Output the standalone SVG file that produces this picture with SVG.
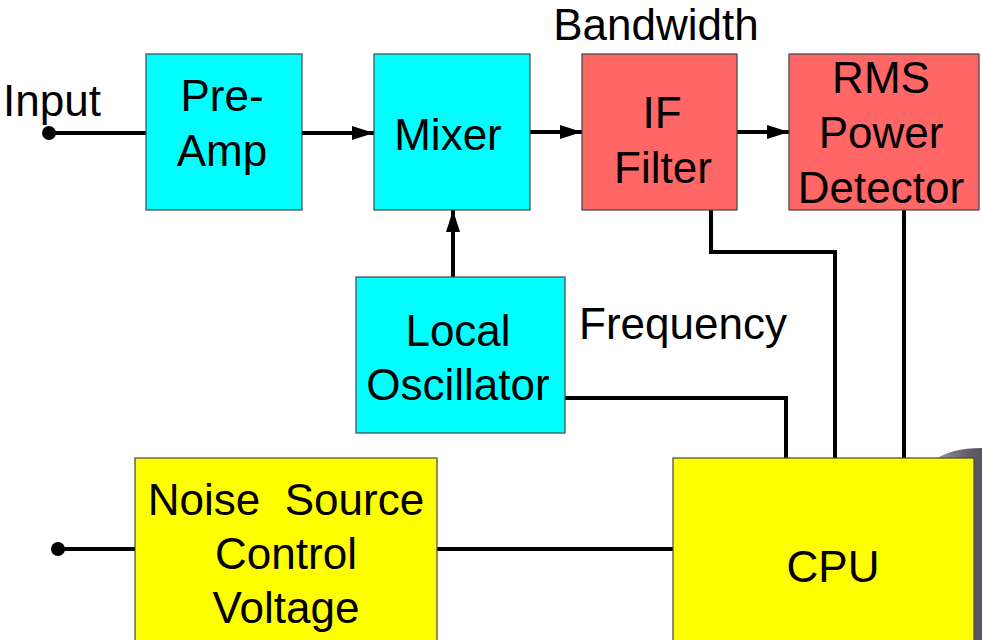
<svg xmlns="http://www.w3.org/2000/svg" width="982" height="640" viewBox="0 0 982 640">
<style>
.box{stroke:#444;stroke-width:1.2}
.cy{fill:#00FFFF}
.rd{fill:#FF6666}
.yl{fill:#FFFF00}
text{font-family:"Liberation Sans",Arial,sans-serif;font-size:44px;fill:#000;text-anchor:middle}
.w{stroke:#000;stroke-width:4;fill:none}
</style>
<defs>
<marker id="ah" markerWidth="22" markerHeight="14" refX="22" refY="7" orient="auto" markerUnits="userSpaceOnUse">
<path d="M0,0 L22,7 L0,14 Z" fill="#000"/>
</marker>
<linearGradient id="gb" x1="0" y1="0" x2="1" y2="0">
<stop offset="0" stop-color="#a09ba6"/>
<stop offset="0.6" stop-color="#6a6470"/>
<stop offset="1" stop-color="#58535c"/>
</linearGradient>
</defs>
<rect width="982" height="640" fill="#fff"/>
<path d="M935,460 Q950,448 982,448 L982,640 L940,640 Z" fill="url(#gb)"/>
<g id="connectors">
<line class="w" x1="49" y1="133" x2="146" y2="133"/>
<circle cx="49" cy="133" r="7" fill="#000"/>
<line class="w" x1="302" y1="133" x2="374" y2="133" marker-end="url(#ah)"/>
<line class="w" x1="530" y1="132" x2="582" y2="132" marker-end="url(#ah)"/>
<line class="w" x1="737" y1="132" x2="789" y2="132" marker-end="url(#ah)"/>
<line class="w" x1="453" y1="277" x2="453" y2="210" marker-end="url(#ah)"/>
<polyline class="w" points="711,210 711,252 835,252 835,458"/>
<line class="w" x1="904" y1="210" x2="904" y2="458"/>
<polyline class="w" points="565,398 786,398 786,458"/>
<line class="w" x1="58" y1="549" x2="135" y2="549"/>
<circle cx="58" cy="549" r="7" fill="#000"/>
<line class="w" x1="437" y1="549" x2="673" y2="549"/>
</g>
<g id="preamp"><rect class="box cy" x="146" y="54" width="156" height="156"/><text x="222" y="111">Pre-</text><text x="222" y="166">Amp</text></g>
<g id="mixer"><rect class="box cy" x="374" y="54" width="156" height="156"/><text x="448" y="150">Mixer</text></g>
<g id="iffilter"><rect class="box rd" x="582" y="54" width="155" height="156"/><text x="662" y="128">IF</text><text x="663" y="183">Filter</text></g>
<g id="rms"><rect class="box rd" x="789" y="54" width="190" height="156"/><text x="881" y="93">RMS</text><text x="881" y="148">Power</text><text x="881" y="203">Detector</text></g>
<g id="lo"><rect class="box cy" x="356" y="277" width="209" height="156"/><text x="458" y="346">Local</text><text x="458" y="400">Oscillator</text></g>
<g id="noise"><rect class="box yl" x="135" y="458" width="302" height="190"/><text x="286" y="515" xml:space="preserve">Noise  Source</text><text x="286" y="569">Control</text><text x="286" y="623">Voltage</text></g>
<g id="cpu"><rect class="box yl" x="673" y="458" width="301" height="190"/><text x="833" y="582">CPU</text></g>
<g id="labels"><text x="3" y="116" style="text-anchor:start">Input</text><text x="656" y="40">Bandwidth</text><text x="683" y="339">Frequency</text></g>
</svg>
